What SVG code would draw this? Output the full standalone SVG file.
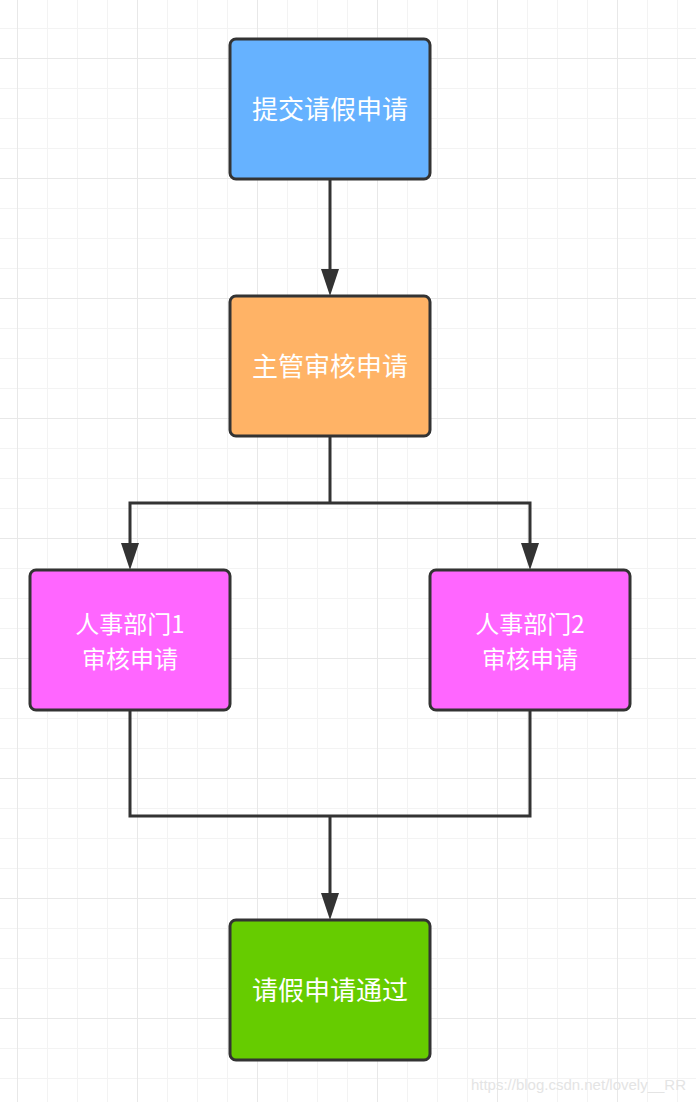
<svg xmlns="http://www.w3.org/2000/svg" width="696" height="1102" viewBox="0 0 696 1102">
<defs>
<pattern id="minor" x="17" y="28" width="30" height="30" patternUnits="userSpaceOnUse">
<path d="M0 0V30M0 0H30" fill="none" stroke="#f3f3f3" stroke-width="2"/>
</pattern>
<pattern id="major" x="17" y="58" width="120" height="120" patternUnits="userSpaceOnUse">
<path d="M0 0V120M0 0H120" fill="none" stroke="#e8e8e8" stroke-width="2"/>
</pattern>
</defs>
<style>
.box{stroke:#333;stroke-width:3}
.lbl{font-family:"Noto Sans CJK SC","Liberation Sans",sans-serif;font-size:26px;fill:#fff;text-anchor:middle}
.lbl2{font-size:24px}
.conn{fill:none;stroke:#333;stroke-width:3}
.head{fill:#333}
</style>
<rect width="696" height="1102" fill="#fff"/>
<rect width="696" height="1102" fill="url(#minor)"/>
<rect width="696" height="1102" fill="url(#major)"/>
<g id="connectors">
<path class="conn" d="M330 179V270"/>
<path class="head" d="M321 269L339 269L330 296Z"/>
<path class="conn" d="M330 436V503H130V544M330 503H530V544"/>
<path class="head" d="M121 543L139 543L130 570Z"/>
<path class="head" d="M521 543L539 543L530 570Z"/>
<path class="conn" d="M130 710V816H530V710M330 816V894"/>
<path class="head" d="M321 893L339 893L330 920Z"/>
</g>
<g id="n1">
<rect class="box" x="230" y="39" width="200" height="140" rx="6" fill="#66b2ff"/>
<text class="lbl" x="330" y="119">提交请假申请</text>
</g>
<g id="n2">
<rect class="box" x="230" y="296" width="200" height="140" rx="6" fill="#ffb366"/>
<text class="lbl" x="330" y="376">主管审核申请</text>
</g>
<g id="n3">
<rect class="box" x="30" y="570" width="200" height="140" rx="6" fill="#ff66ff"/>
<text class="lbl lbl2" x="130" y="633">人事部门1</text>
<text class="lbl lbl2" x="130" y="668">审核申请</text>
</g>
<g id="n4">
<rect class="box" x="430" y="570" width="200" height="140" rx="6" fill="#ff66ff"/>
<text class="lbl lbl2" x="530" y="633">人事部门2</text>
<text class="lbl lbl2" x="530" y="668">审核申请</text>
</g>
<g id="n5">
<rect class="box" x="230" y="920" width="200" height="140" rx="6" fill="#66cc00"/>
<text class="lbl" x="330" y="1000">请假申请通过</text>
</g>
<text x="686" y="1090" font-family="Liberation Sans,sans-serif" font-size="15" fill="#e4e4e4" text-anchor="end">https://blog.csdn.net/lovely__RR</text>
</svg>
